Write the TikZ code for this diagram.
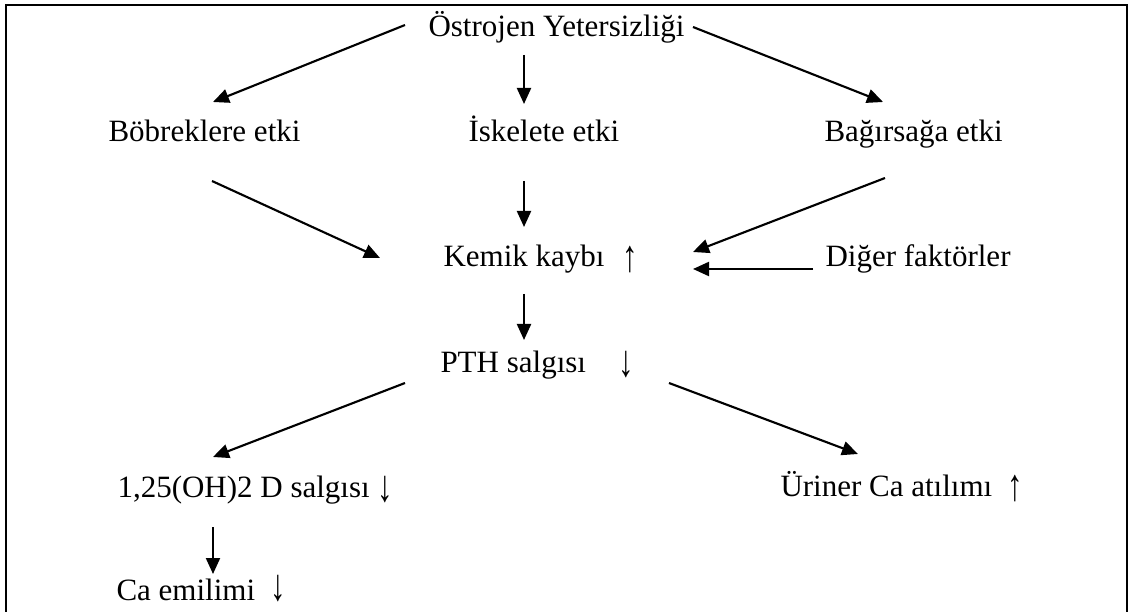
\documentclass[tikz,border=0pt]{standalone}
\usepackage{fontspec}
\setmainfont{Liberation Serif}
\usetikzlibrary{arrows.meta}

\newcommand{\upar}{\raisebox{-1.8pt}{\scalebox{1}[1.45]{↑}}}
\newcommand{\dnar}[1][-1.8pt]{\raisebox{#1}{\scalebox{1}[1.45]{↓}}}

\tikzset{
  lbl/.style={anchor=base west, inner sep=0pt, font=\fontsize{12.4}{14}\selectfont},
  arr/.style={line width=0.85pt, -{Triangle[length=6.4pt, width=5.6pt]}},
}

\begin{document}
\begin{tikzpicture}[x=0.4pt, y=-0.4pt]
  \useasboundingbox (0,0) rectangle (1133,612);
  % Frame
  \draw[line width=0.75pt] (6,5) rectangle (1127,640);

  % Top
  \node[lbl] (ostro) at (428,37) {Östrojen Yetersizliği};

  % Second row
  \node[lbl] (bobrek) at (108,142) {Böbreklere etki};
  \node[lbl] (iskelet) at (468,142) {İskelete etki};
  \node[lbl] (bagirsak) at (824,142) {Bağırsağa etki};

  % Third row
  \node[lbl] (kemik) at (443,267) {Kemik kaybı\hspace{7pt}\upar};
  \node[lbl] (diger) at (825,267) {Diğer faktörler};

  % PTH
  \node[lbl] (pth) at (440,372) {PTH salgısı\hspace{13pt}\dnar};

  % Bottom rows
  \node[lbl] (vitd) at (117,497) {1,25(OH)2 D salgısı \dnar};
  \node[lbl] (uriner) at (780,496) {Üriner Ca atılımı\hspace{6pt}\upar};
  \node[lbl] (caemilim) at (116,600) {Ca emilimi\hspace{6pt}\dnar[0pt]};

  % Arrows
  \draw[arr] ([shift={(-23,-12)}]ostro.base west) -- ([shift={(105,-40)}]bobrek.base west);
  \draw[arr] ([shift={(96,18)}]ostro.base west) -- ([shift={(56,-38)}]iskelet.base west);
  \draw[arr] ([shift={(265,-10)}]ostro.base west) -- ([shift={(59,-40)}]bagirsak.base west);

  \draw[arr] ([shift={(104,39)}]bobrek.base west) -- ([shift={(-63,-9)}]kemik.base west);
  \draw[arr] ([shift={(56,39)}]iskelet.base west) -- ([shift={(81,-40)}]kemik.base west);
  \draw[arr] ([shift={(61,36)}]bagirsak.base west) -- ([shift={(250,-15)}]kemik.base west);
  \draw[arr] ([shift={(-12,2)}]diger.base west) -- ([shift={(250,2)}]kemik.base west);

  \draw[arr] ([shift={(81,27)}]kemik.base west) -- ([shift={(84,-32)}]pth.base west);

  \draw[arr] ([shift={(-35,11)}]pth.base west) -- ([shift={(96,-40)}]vitd.base west);
  \draw[arr] ([shift={(229,11)}]pth.base west) -- ([shift={(78,-42)}]uriner.base west);

  \draw[arr] ([shift={(96,30)}]vitd.base west) -- ([shift={(97,-26)}]caemilim.base west);
\end{tikzpicture}
\end{document}
